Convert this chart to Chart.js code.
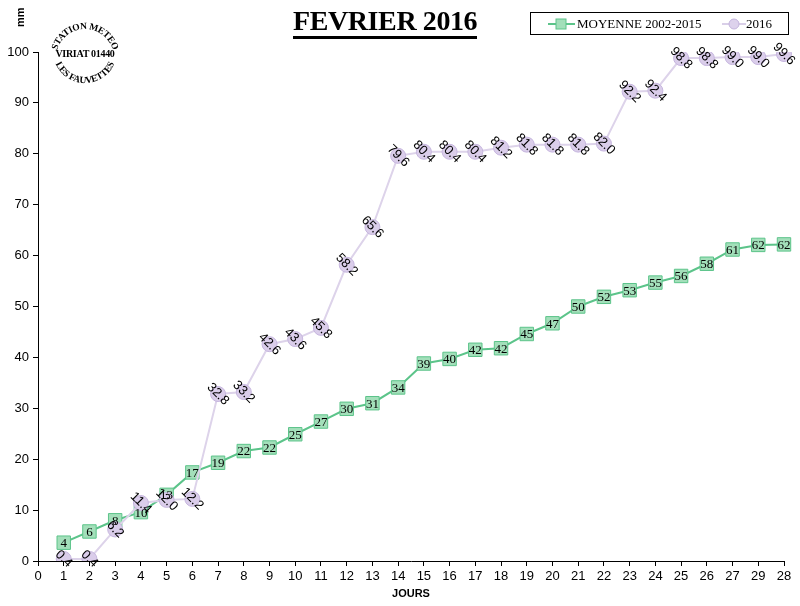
<!DOCTYPE html>
<html>
<head>
<meta charset="utf-8">
<script src="https://cdn.jsdelivr.net/npm/chart.js@4.4.1/dist/chart.umd.min.js"></script>
<style>
  html, body { margin: 0; padding: 0; background: #fff; }
  #wrap { position: relative; width: 800px; height: 606px; }
  #chart { position: absolute; left: 0; top: 0; }
  .title {
    position: absolute; left: 293px; top: 6px;
    font: bold 28px "Liberation Serif", serif; letter-spacing: -0.4px;
    border-bottom: 3px solid #000; line-height: 30px; padding-bottom: 0;
  }
  .legend {
    position: absolute; left: 530px; top: 12px; width: 257px; height: 21px;
    border: 1px solid #000; font: 13px "Liberation Serif", serif;
  }
  .legend svg { position: absolute; top: 4px; }
  .legend span { position: absolute; top: 3px; }
  .unit {
    position: absolute; left: 13px; top: 12px; width: 16px; text-align: center;
    font: bold 11px "Liberation Sans", sans-serif; transform: rotate(-90deg); transform-origin: 8px 7px;
  }
  .axis-title {
    position: absolute; left: 381px; top: 587px; width: 60px; text-align: center;
    font: bold 11px "Liberation Sans", sans-serif;
  }
  .stamp { position: absolute; left: 48px; top: 18px; }
</style>
</head>
<body>
<div id="wrap">
  <canvas id="chart" width="800" height="606"></canvas>
  <div class="title">FEVRIER 2016</div>
  <div class="legend">
    <svg width="30" height="14" style="left:17px">
      <line x1="0" y1="7" x2="27" y2="7" stroke="#5cc48a" stroke-width="2"/>
      <rect x="8" y="2" width="10" height="10" fill="#a3dfba" stroke="#5cc48a"/>
    </svg>
    <span style="left:46px">MOYENNE 2002-2015</span>
    <svg width="26" height="14" style="left:191px">
      <line x1="0" y1="7" x2="24" y2="7" stroke="#d9cfe8" stroke-width="2"/>
      <circle cx="12" cy="7" r="5" fill="#ddd2ec" stroke="#c3b3dc"/>
    </svg>
    <span style="left:215px">2016</span>
  </div>
  <div class="unit">mm</div>
  <div class="axis-title">JOURS</div>
  <svg class="stamp" width="74" height="72" viewBox="0 0 74 72">
    <defs>
      <path id="arcTop" d="M 8 40 A 29 29 0 0 1 66 40"/>
      <path id="arcBot" d="M 5 33 A 32 32 0 0 0 69 33"/>
    </defs>
    <g font-family="Liberation Serif, serif" font-weight="bold" font-size="9.5" fill="#000">
      <text><textPath href="#arcTop" startOffset="50%" text-anchor="middle" letter-spacing="-0.3">STATION METEO</textPath></text>
      <text x="37" y="39" text-anchor="middle" font-size="10" letter-spacing="-0.3">VIRIAT 01440</text>
      <text><textPath href="#arcBot" startOffset="50%" text-anchor="middle" letter-spacing="-0.2">LES FAUVETTES</textPath></text>
    </g>
  </svg>
</div>
<script>
const days = ['0', '1', '2', '3', '4', '5', '6', '7', '8', '9', '10', '11', '12', '13', '14',
  '15', '16', '17', '18', '19', '20', '21', '22', '23', '24', '25', '26', '27', '29', '28'];

// cumulative rain, mm (first category has no value)
const moyenne = [null, 3.6, 5.8, 8.0, 9.6, 13.0, 17.4, 19.3, 21.6, 22.3, 24.9, 27.4, 29.9, 31.0, 34.1,
  38.8, 39.7, 41.5, 41.8, 44.6, 46.7, 50.0, 51.9, 53.2, 54.7, 56.0, 58.4, 61.2, 62.1, 62.2];
const rain2016 = [null, 0.4, 0.4, 6.2, 11.4, 12.0, 12.2, 32.8, 33.2, 42.6, 43.6, 45.8, 58.2, 65.6, 79.6,
  80.4, 80.4, 80.4, 81.2, 81.8, 81.8, 81.8, 82.0, 92.2, 92.4, 98.8, 98.8, 99.0, 99.0, 99.6];

const yTicks = { min: 0, max: 100, step: 10 };

const pointLabels = {
  id: 'pointLabels',
  afterDatasetsDraw(chart) {
    const ctx = chart.ctx;
    chart.data.datasets.forEach((ds, i) => {
      const meta = chart.getDatasetMeta(i);
      meta.data.forEach((pt, j) => {
        const v = ds.data[j];
        if (v == null) return;
        ctx.save();
        ctx.translate(pt.x, pt.y);
        ctx.fillStyle = '#000';
        ctx.textAlign = 'center';
        ctx.textBaseline = 'middle';
        if (i === 0) {
          ctx.font = '13px "Liberation Serif", serif';
          ctx.fillText(String(Math.round(v)), 0, 1);
        } else {
          ctx.rotate(Math.PI / 4);
          ctx.font = '13px "Liberation Sans", sans-serif';
          ctx.fillText(v.toFixed(1), 0, 0);
        }
        ctx.restore();
      });
    });
  },
};

new Chart(document.getElementById('chart'), {
  type: 'line',
  data: {
    labels: days,
    datasets: [
      {
        label: 'MOYENNE 2002-2015',
        data: moyenne,
        borderColor: '#5cc48a',
        borderWidth: 2,
        backgroundColor: '#a3dfba',
        pointStyle: 'rect',
        pointRadius: 9.5,
        pointBorderColor: '#5cc48a',
        pointBorderWidth: 1,
        tension: 0,
        order: 2,
      },
      {
        label: '2016',
        data: rain2016,
        borderColor: '#ddd3ea',
        borderWidth: 2,
        backgroundColor: '#dacdea',
        pointStyle: 'circle',
        pointRadius: 7.5,
        pointBorderColor: '#c6b6de',
        pointBorderWidth: 1,
        tension: 0,
        order: 1,
      },
    ],
  },
  options: {
    responsive: false,
    animation: false,
    events: [],
    layout: { padding: { top: 52, right: 16, left: 0, bottom: 0 } },
    plugins: {
      legend: { display: false },
      tooltip: { enabled: false },
    },
    scales: {
      x: {
        type: 'category',
        offset: false,
        afterFit(scale) { scale.height = 45; },
        grid: { drawOnChartArea: false, drawTicks: true, tickLength: 5, color: '#000' },
        border: { display: true, color: '#000', width: 1 },
        ticks: {
          autoSkip: false, maxRotation: 0, padding: 3, color: '#000',
          font: { family: '"Liberation Sans", sans-serif', size: 13 },
        },
      },
      y: {
        min: yTicks.min,
        max: yTicks.max,
        afterFit(scale) { scale.width = 38; },
        grid: { drawOnChartArea: false, drawTicks: true, tickLength: 5, color: '#000' },
        border: { display: true, color: '#000', width: 1 },
        ticks: {
          stepSize: yTicks.step, padding: 4, color: '#000',
          font: { family: '"Liberation Sans", sans-serif', size: 13 },
        },
      },
    },
  },
  plugins: [pointLabels],
});
</script>
</body>
</html>
